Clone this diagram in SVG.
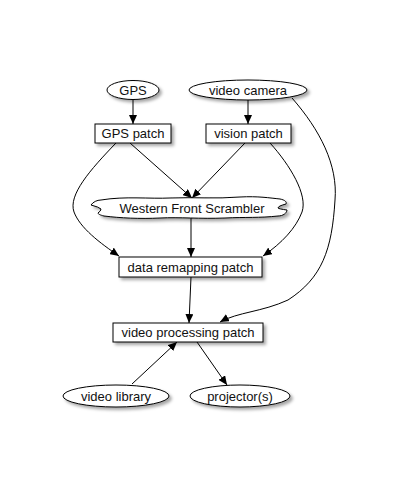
<svg xmlns="http://www.w3.org/2000/svg" width="400" height="480" viewBox="0 0 400 480">
<defs>
<filter id="sh" x="-20%" y="-40%" width="140%" height="180%">
<feDropShadow dx="2.5" dy="2.5" stdDeviation="1.5" flood-color="#000" flood-opacity="0.35"/>
</filter>
<marker id="ar" markerWidth="10" markerHeight="8" refX="9" refY="4" orient="auto" markerUnits="userSpaceOnUse">
<path d="M0,0 L9,4 L0,8 Z" fill="#000"/>
</marker>
<style>
.n{fill:#fff;stroke:#000;stroke-width:1;filter:url(#sh)}
.t{font-family:"Liberation Sans",Arial,Helvetica,sans-serif;font-size:13px;fill:#111;text-anchor:middle}
.e{fill:none;stroke:#000;stroke-width:1;marker-end:url(#ar)}
</style>
</defs>
<rect width="400" height="480" fill="#fff"/>
<g id="edges">
<path class="e" d="M133,99.5 L133,124"/>
<path class="e" d="M248,100 L248,124"/>
<path class="e" d="M130,143 L192,198"/>
<path class="e" d="M245,143 L192,198"/>
<path class="e" d="M116,143 C90,170 68,195 74,212 C80,228 100,243 119,256"/>
<path class="e" d="M270,143 C290,165 308,195 302,212 C296,228 282,243 263,256"/>
<path class="e" d="M191,218 L191,257"/>
<path class="e" d="M191,277 L189,323"/>
<path class="e" d="M292,98 C320,130 338,165 335,200 C332,250 322,278 288,300 C262,312 238,312 220,322"/>
<path class="e" d="M132,384 L177,342"/>
<path class="e" d="M197,342 L227,385"/>
</g>
<g id="gps"><ellipse class="n" cx="133" cy="90" rx="26" ry="9.5"/><text class="t" x="133" y="94.5">GPS</text></g>
<g id="camera"><ellipse class="n" cx="248" cy="90" rx="59" ry="10"/><text class="t" x="248" y="94.5">video camera</text></g>
<g id="gpspatch"><rect class="n" x="95" y="124" width="76" height="19"/><text class="t" x="133" y="138">GPS patch</text></g>
<g id="visionpatch"><rect class="n" x="206" y="124" width="85" height="19"/><text class="t" x="248.5" y="138">vision patch</text></g>
<g id="scrambler"><path class="n" d="M101,200 C125,196 150,199 170,198 C195,197 215,199 240,197 C258,196 270,198 280,199 C285,200 287,202 286,204 Q278,206 278,208 Q279,209 287,210 C287,213 283,216 278,216 C260,218 245,217 225,218 C200,219 180,217 160,218 C140,219 120,218 104,216 C100,215 98,214 98,213 Q101,211 101,209 Q99,207 91,205 C93,202 97,200 101,200 Z"/><text class="t" x="192" y="212.5">Western Front Scrambler</text></g>
<g id="remap"><rect class="n" x="119" y="257" width="143" height="20"/><text class="t" x="190.5" y="271.5">data remapping patch</text></g>
<g id="vproc"><rect class="n" x="113" y="323" width="150" height="19"/><text class="t" x="188" y="337">video processing patch</text></g>
<g id="library"><ellipse class="n" cx="116" cy="396" rx="53" ry="11"/><text class="t" x="116" y="400.5">video library</text></g>
<g id="projector"><ellipse class="n" cx="240" cy="396" rx="50" ry="11"/><text class="t" x="240" y="400.5">projector(s)</text></g>
</svg>
